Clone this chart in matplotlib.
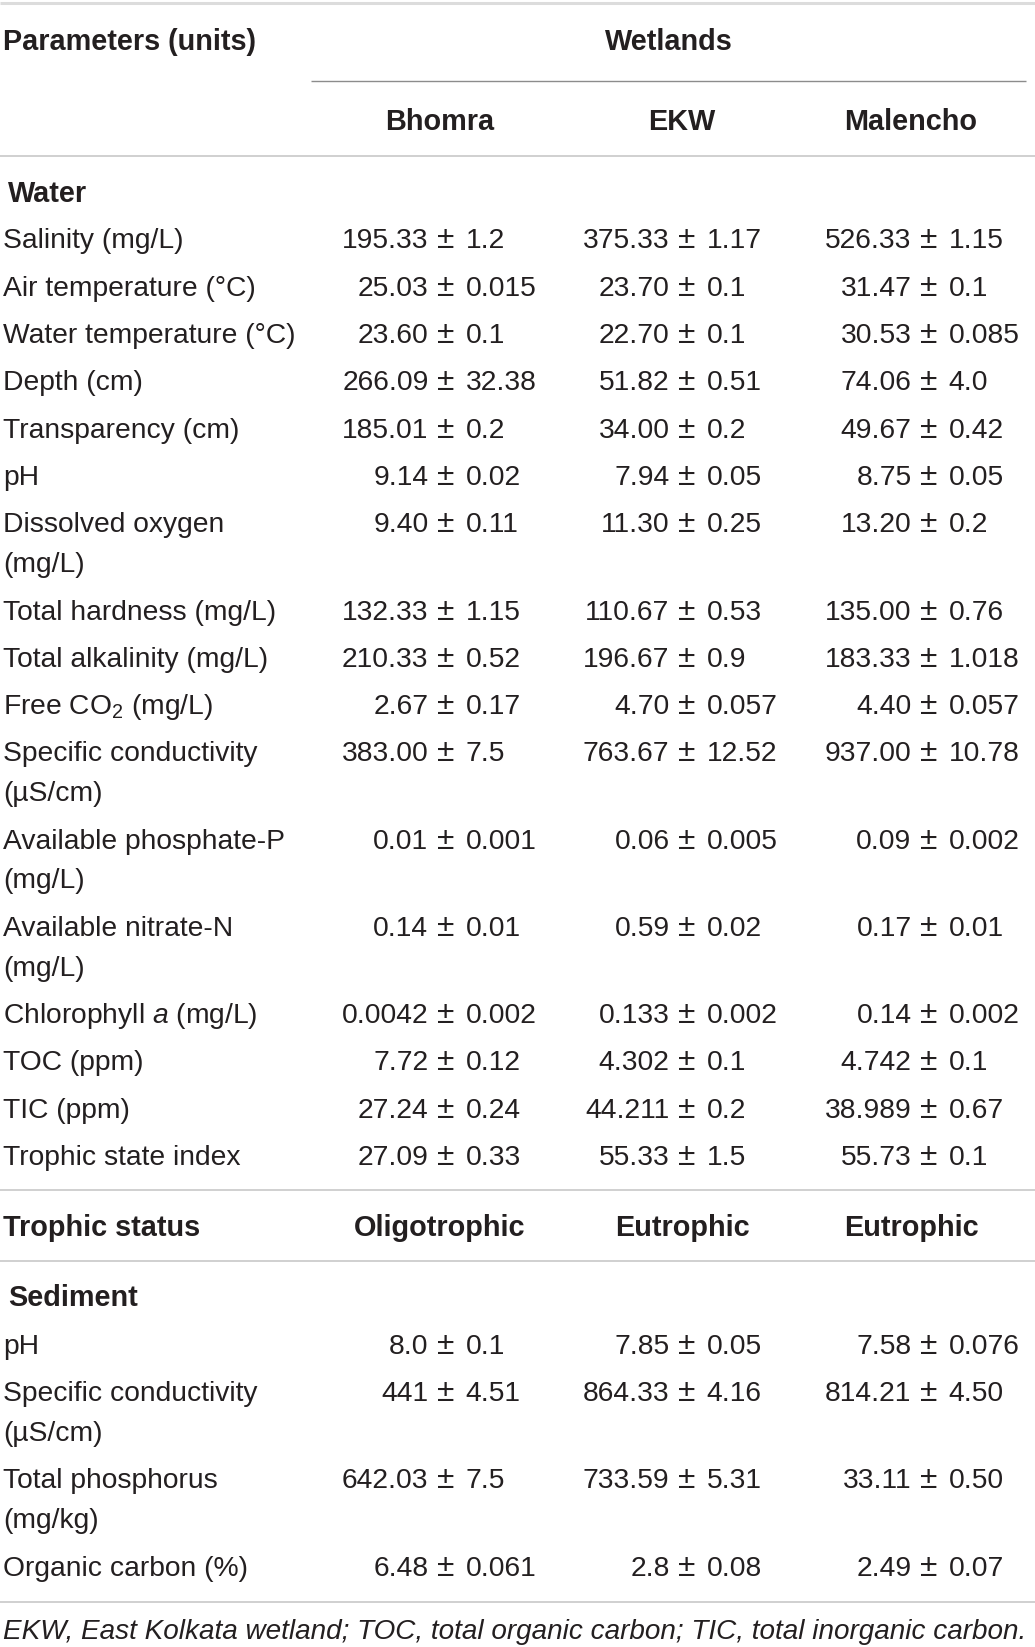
import matplotlib
matplotlib.use('Agg')
import matplotlib.pyplot as plt

plt.rcParams['font.family'] = ['Liberation Sans', 'DejaVu Sans']
plt.rcParams['mathtext.fontset'] = 'custom'
plt.rcParams['mathtext.rm'] = 'Liberation Sans'
plt.rcParams['mathtext.it'] = 'Liberation Sans:italic'
plt.rcParams['mathtext.bf'] = 'Liberation Sans:bold'

# Table content
wetlands = ["Bhomra", "EKW", "Malencho"]

water_params = [
    "Salinity (mg/L)", "Air temperature (\u00b0C)", "Water temperature (\u00b0C)",
    "Depth (cm)", "Transparency (cm)", "pH", "Dissolved oxygen\n(mg/L)",
    "Total hardness (mg/L)", "Total alkalinity (mg/L)", "Free CO$_2$ (mg/L)",
    "Specific conductivity\n(\u00b5S/cm)", "Available phosphate-P\n(mg/L)",
    "Available nitrate-N\n(mg/L)", "Chlorophyll $\\it{a}$ (mg/L)", "TOC (ppm)",
    "TIC (ppm)", "Trophic state index",
]
bhomra_water_mean = ["195.33", "25.03", "23.60", "266.09", "185.01", "9.14", "9.40", "132.33",
                     "210.33", "2.67", "383.00", "0.01", "0.14", "0.0042", "7.72", "27.24", "27.09"]
bhomra_water_sd = ["1.2", "0.015", "0.1", "32.38", "0.2", "0.02", "0.11", "1.15",
                   "0.52", "0.17", "7.5", "0.001", "0.01", "0.002", "0.12", "0.24", "0.33"]
ekw_water_mean = ["375.33", "23.70", "22.70", "51.82", "34.00", "7.94", "11.30", "110.67",
                  "196.67", "4.70", "763.67", "0.06", "0.59", "0.133", "4.302", "44.211", "55.33"]
ekw_water_sd = ["1.17", "0.1", "0.1", "0.51", "0.2", "0.05", "0.25", "0.53",
                "0.9", "0.057", "12.52", "0.005", "0.02", "0.002", "0.1", "0.2", "1.5"]
malencho_water_mean = ["526.33", "31.47", "30.53", "74.06", "49.67", "8.75", "13.20", "135.00",
                       "183.33", "4.40", "937.00", "0.09", "0.17", "0.14", "4.742", "38.989", "55.73"]
malencho_water_sd = ["1.15", "0.1", "0.085", "4.0", "0.42", "0.05", "0.2", "0.76",
                     "1.018", "0.057", "10.78", "0.002", "0.01", "0.002", "0.1", "0.67", "0.1"]

trophic_status = ["Oligotrophic", "Eutrophic", "Eutrophic"]

sediment_params = ["pH", "Specific conductivity\n(\u00b5S/cm)", "Total phosphorus\n(mg/kg)",
                   "Organic carbon (%)"]
bhomra_sed_mean = ["8.0", "441", "642.03", "6.48"]
bhomra_sed_sd = ["0.1", "4.51", "7.5", "0.061"]
ekw_sed_mean = ["7.85", "864.33", "733.59", "2.8"]
ekw_sed_sd = ["0.05", "4.16", "5.31", "0.08"]
malencho_sed_mean = ["7.58", "814.21", "33.11", "2.49"]
malencho_sed_sd = ["0.076", "4.50", "0.50", "0.07"]

footnote = "EKW, East Kolkata wetland; TOC, total organic carbon; TIC, total inorganic carbon."

# Layout (pixels)
W, H = 1035, 1647
FS = 20.3
FS_BOLD = 20.8
TXT = "#231f20"
LINE = "#c4c4c4"
col_center = [440, 682, 911]
pm_x = [446, 687, 929]
gap_left = 17.5
gap_right = 19.5
pitch = 47.3
wrap = 39.9
cap_off = 9.5  # baseline offset from visual centre

fig = plt.figure(figsize=(W / 100, H / 100), dpi=100)
ax = fig.add_axes([0, 0, 1, 1])
ax.set_xlim(0, W)
ax.set_ylim(H, 0)
ax.axis('off')


def put(x, y, s, ha='left', bold=False, italic=False, size=None):
    if size is None:
        size = FS_BOLD if bold else FS
    ax.text(x, y + cap_off, s, ha=ha, va='baseline', fontsize=size, color=TXT,
            fontweight='bold' if bold else 'normal',
            fontstyle='italic' if italic else 'normal')


def hline(y, x0=0, x1=W, color=LINE, lw=1.1):
    ax.plot([x0, x1], [y, y], color=color, lw=lw, solid_capstyle='butt')


def value_rows(y0, params, means, sds):
    y = y0
    for i, p in enumerate(params):
        lines = p.split("\n")
        put(3, y, lines[0])
        for k, extra in enumerate(lines[1:]):
            put(3, y + wrap * (k + 1), extra)
        for c in range(3):
            put(pm_x[c] - gap_left, y, means[c][i], ha='right')
            put(pm_x[c], y, "\u00b1", ha='center', size=FS * 1.12)
            put(pm_x[c] + gap_right, y, sds[c][i], ha='left')
        y += pitch + wrap * (len(lines) - 1)
    return y - pitch


# Header
hline(3, color="#dcdcdc", lw=2.2)
put(3, 40, "Parameters (units)", bold=True)
put(669, 40, "Wetlands", ha='center', bold=True)
hline(81, 311, 1026, color="#8c8c8c", lw=1.0)
for c, name in enumerate(wetlands):
    put(col_center[c], 121, name, ha='center', bold=True)
hline(156)

# Water block
put(8, 193, "Water", bold=True)
y_last = value_rows(239, water_params,
                    [bhomra_water_mean, ekw_water_mean, malencho_water_mean],
                    [bhomra_water_sd, ekw_water_sd, malencho_water_sd])

# Trophic status
y = y_last + 35
hline(y)
y += 36
put(3, y, "Trophic status", bold=True)
for c, s in enumerate(trophic_status):
    put(col_center[c], y, s, ha='center', bold=True)
y += 35
hline(y)
y += 35

# Sediment block
put(8, y, "Sediment", bold=True)
y_last = value_rows(y + 48, sediment_params,
                    [bhomra_sed_mean, ekw_sed_mean, malencho_sed_mean],
                    [bhomra_sed_sd, ekw_sed_sd, malencho_sed_sd])
y = y_last + 36
hline(y)
put(3, y + 27, footnote, italic=True, size=20.1)

fig.savefig("out.png", dpi=100)
